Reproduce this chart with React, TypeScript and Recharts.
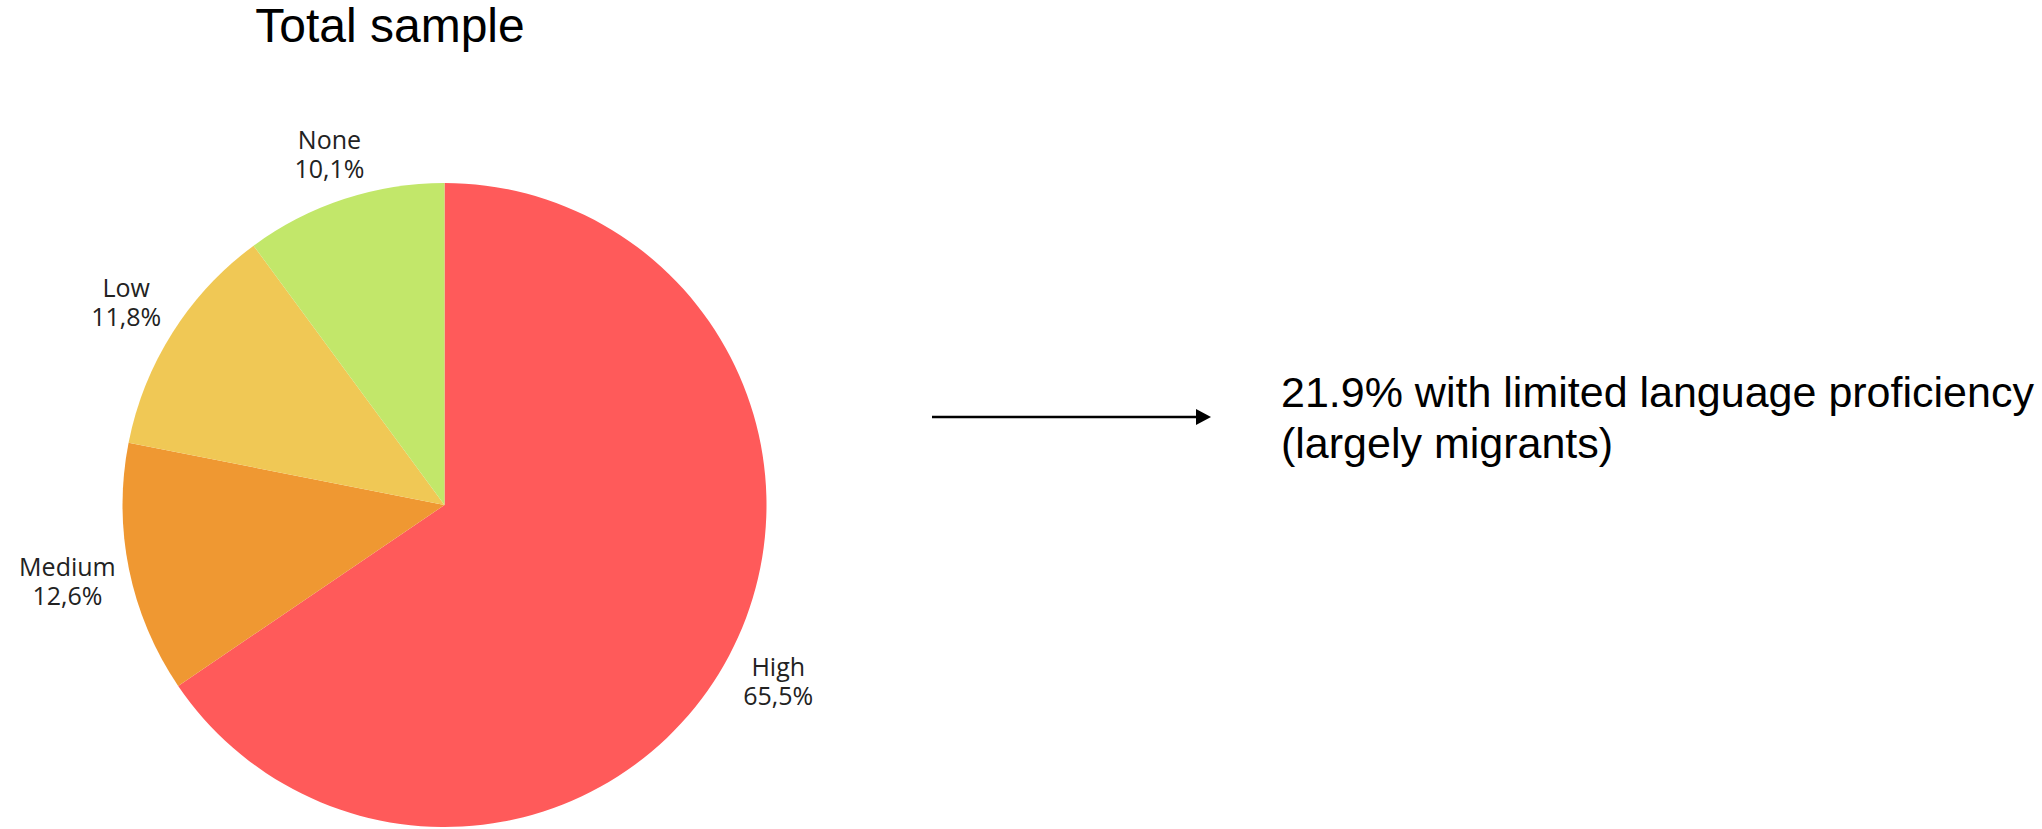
import { PieChart, Pie, Cell } from "recharts";

// language proficiency shares, total sample
const categories = ["High", "Medium", "Low", "None"];
const shares = [65.5, 12.6, 11.8, 10.1];

const COLORS = [
  "#FF5A5A", // High
  "#EF9832", // Medium
  "#F0C855", // Low
  "#C2E76A", // None
];

const title = "Total sample";
const noteLines = [
  "21.9% with limited language proficiency",
  "(largely migrants)",
];

const data = categories.map((name, i) => ({ name, value: shares[i] }));

const RADIAN = Math.PI / 180;
const LABEL_FONT = "'Open Sans', 'Noto Sans', sans-serif";
const LABEL_SIZE = 25;

const fmt = (v: number) => v.toFixed(1).replace(".", ",") + "%";

let ctx: CanvasRenderingContext2D | null = null;
function textWidth(s: string) {
  if (!ctx) ctx = document.createElement("canvas").getContext("2d");
  if (!ctx) return s.length * 13;
  ctx.font = `${LABEL_SIZE}px ${LABEL_FONT}`;
  return ctx.measureText(s).width;
}

function renderLabel(props: any) {
  const { cx, cy, midAngle, outerRadius, name, value } = props;
  const pct = fmt(value);
  const half = Math.max(textWidth(name), textWidth(pct)) / 2;
  const cos = Math.cos(-midAngle * RADIAN);
  const sin = Math.sin(-midAngle * RADIAN);
  // push wide labels a little further out on the sides
  const r = outerRadius + 42 + 0.44 * half * Math.abs(cos);
  const x = cx + r * cos;
  const y = cy + r * sin;
  return (
    <text
      x={x}
      y={y}
      textAnchor="middle"
      fill="#222"
      fontSize={LABEL_SIZE}
      fontFamily={LABEL_FONT}
    >
      <tspan x={x} dy={-6}>
        {name}
      </tspan>
      <tspan x={x} dy={29}>
        {pct}
      </tspan>
    </text>
  );
}

export default function App() {
  return (
    <div
      style={{
        position: "absolute",
        left: 0,
        top: 0,
        width: 2042,
        height: 829,
        background: "#fff",
      }}
    >
      <PieChart
        width={2042}
        height={829}
        margin={{ top: 0, right: 0, bottom: 0, left: 0 }}
      >
        <Pie
          data={data}
          dataKey="value"
          nameKey="name"
          cx={444.5}
          cy={505}
          outerRadius={322}
          startAngle={90}
          endAngle={-270}
          stroke="none"
          labelLine={false}
          label={renderLabel}
          isAnimationActive={false}
        >
          {data.map((_entry, index) => (
            <Cell key={`cell-${index}`} fill={COLORS[index % COLORS.length]} />
          ))}
        </Pie>
      </PieChart>
      <svg
        width={2042}
        height={829}
        style={{ position: "absolute", left: 0, top: 0, pointerEvents: "none" }}
      >
        <text
          x={390}
          y={42}
          textAnchor="middle"
          fontSize={48}
          fontFamily="'Liberation Sans', Arial, sans-serif"
          fill="#000"
        >
          {title}
        </text>
        <line x1={932} y1={417} x2={1198} y2={417} stroke="#000" strokeWidth={2.5} />
        <polygon points="1196,409 1211,417 1196,425" fill="#000" />
        {noteLines.map((line, i) => (
          <text
            key={i}
            x={1281}
            y={407 + i * 51}
            fontSize={43}
            fontFamily="'Liberation Sans', Arial, sans-serif"
            fill="#000"
          >
            {line}
          </text>
        ))}
      </svg>
    </div>
  );
}
